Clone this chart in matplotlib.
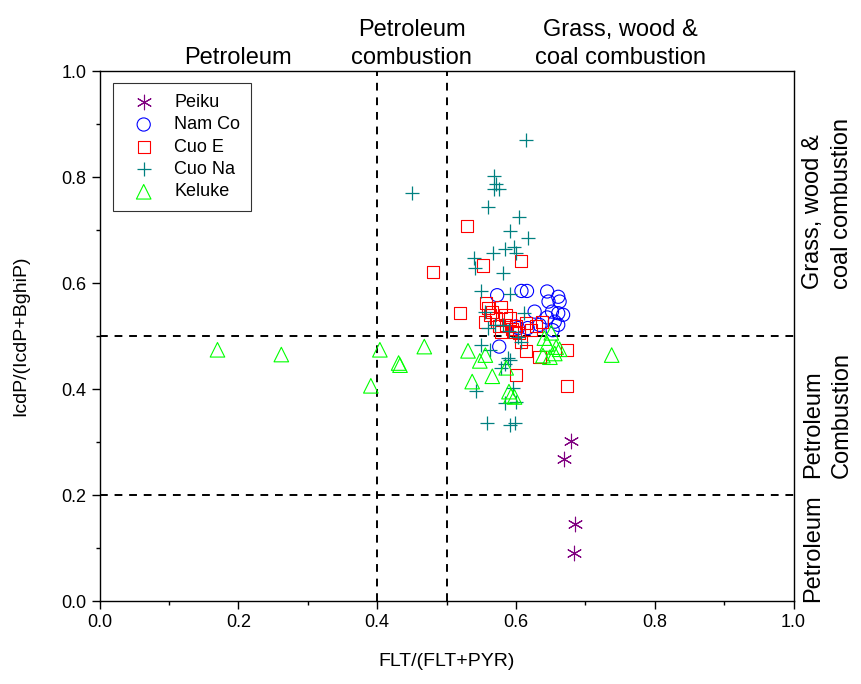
import matplotlib
matplotlib.use("Agg")
import matplotlib.pyplot as plt

plt.rcParams['font.family'] = ['Liberation Sans', 'DejaVu Sans']

# FLT/(FLT+PYR) and IcdP/(IcdP+BghiP) ratios
peiku_x = [0.680, 0.670, 0.685, 0.683]
peiku_y = [0.302, 0.268, 0.145, 0.091]

namco_x = [0.573, 0.608, 0.616, 0.645, 0.647, 0.661, 0.663, 0.627, 0.652, 0.661,
           0.668, 0.656, 0.661, 0.653, 0.600, 0.576, 0.634, 0.617, 0.603, 0.645]
namco_y = [0.577, 0.585, 0.585, 0.584, 0.565, 0.574, 0.565, 0.546, 0.546, 0.543,
           0.540, 0.527, 0.521, 0.511, 0.518, 0.480, 0.521, 0.515, 0.515, 0.535]

cuoe_x = [0.529, 0.552, 0.607, 0.519, 0.480, 0.557, 0.555, 0.579, 0.562, 0.572,
          0.591, 0.586, 0.600, 0.615, 0.637, 0.622, 0.576, 0.579, 0.598, 0.566,
          0.585, 0.629, 0.608, 0.615, 0.634, 0.673, 0.600, 0.673, 0.560, 0.594, 0.605]
cuoe_y = [0.708, 0.633, 0.641, 0.544, 0.620, 0.562, 0.527, 0.555, 0.540, 0.533,
          0.533, 0.521, 0.518, 0.524, 0.527, 0.511, 0.518, 0.508, 0.508, 0.545,
          0.540, 0.518, 0.488, 0.472, 0.460, 0.474, 0.426, 0.406, 0.552, 0.514, 0.505]

cuona_x = [0.450, 0.615, 0.569, 0.572, 0.576, 0.569, 0.560, 0.605, 0.591, 0.618,
           0.567, 0.585, 0.597, 0.600, 0.540, 0.541, 0.581, 0.549, 0.592, 0.555,
           0.612, 0.581, 0.560, 0.550, 0.562, 0.589, 0.592, 0.584, 0.579, 0.608,
           0.603, 0.542, 0.596, 0.584, 0.600, 0.559, 0.592, 0.598, 0.570, 0.590]
cuona_y = [0.770, 0.870, 0.802, 0.787, 0.777, 0.777, 0.743, 0.724, 0.699, 0.684,
           0.656, 0.664, 0.668, 0.656, 0.648, 0.628, 0.618, 0.585, 0.580, 0.546,
           0.544, 0.521, 0.515, 0.483, 0.474, 0.458, 0.455, 0.448, 0.439, 0.489,
           0.499, 0.397, 0.401, 0.373, 0.376, 0.335, 0.332, 0.336, 0.520, 0.510]

keluke_x = [0.170, 0.262, 0.391, 0.404, 0.431, 0.433, 0.468, 0.531, 0.548, 0.556,
            0.537, 0.566, 0.586, 0.593, 0.598, 0.590, 0.641, 0.651, 0.639, 0.649,
            0.656, 0.663, 0.658, 0.645, 0.738]
keluke_y = [0.474, 0.465, 0.406, 0.474, 0.449, 0.445, 0.480, 0.472, 0.453, 0.464,
            0.414, 0.424, 0.440, 0.387, 0.385, 0.395, 0.496, 0.506, 0.463, 0.460,
            0.467, 0.475, 0.479, 0.485, 0.464]

fig = plt.figure(figsize=(8.61, 6.84), dpi=100)
ax = fig.add_axes([99.5 / 861, 1 - 601 / 684, 694 / 861, 530 / 684])

ax.scatter(peiku_x, peiku_y, marker=(6, 2, 0), s=110, color='#800080', linewidths=0.8, label='Peiku', zorder=3)
ax.scatter(namco_x, namco_y, marker='o', s=90, facecolors='none', edgecolors='#0000FF', linewidths=0.8, label='Nam Co', zorder=3)
ax.scatter(cuoe_x, cuoe_y, marker='s', s=75, facecolors='none', edgecolors='#FF0000', linewidths=0.8, label='Cuo E', zorder=3)
ax.scatter(cuona_x, cuona_y, marker='+', s=90, color='#008080', linewidths=0.9, label='Cuo Na', zorder=3)
ax.scatter(keluke_x, keluke_y, marker='^', s=110, facecolors='none', edgecolors='#00FF00', linewidths=0.8, label='Keluke', zorder=3)

for xv in [0.4, 0.5]:
    ax.axvline(xv, color='black', linestyle=(0, (4, 3.5)), linewidth=1.4, zorder=2)
for yv in [0.5, 0.2]:
    ax.axhline(yv, color='black', linestyle=(0, (4, 3.5)), linewidth=1.4, zorder=2)

ax.set_xlim(0, 1)
ax.set_ylim(0, 1)
ax.set_xticks([0.0, 0.2, 0.4, 0.6, 0.8, 1.0])
ax.set_yticks([0.0, 0.2, 0.4, 0.6, 0.8, 1.0])
ax.set_xticks([0.1, 0.3, 0.5, 0.7, 0.9], minor=True)
ax.set_yticks([0.1, 0.3, 0.5, 0.7, 0.9], minor=True)
ax.tick_params(which='major', direction='out', length=6, width=1, labelsize=13)
ax.tick_params(which='minor', direction='out', length=3, width=1)
for sp in ax.spines.values():
    sp.set_linewidth(1.0)

ax.set_xlabel('FLT/(FLT+PYR)', fontsize=14, labelpad=16)
ax.set_ylabel('IcdP/(IcdP+BghiP)', fontsize=14, labelpad=23)

# region labels on top
ax.text(0.2, 1.003, 'Petroleum', fontsize=17, ha='center', va='bottom', transform=ax.transAxes)
ax.text(0.45, 1.003, 'Petroleum\ncombustion', fontsize=17, ha='center', va='bottom',
        linespacing=1.4, transform=ax.transAxes)
ax.text(0.75, 1.003, 'Grass, wood &\ncoal combustion', fontsize=17, ha='center', va='bottom',
        linespacing=1.4, transform=ax.transAxes)

# region labels on the right
ax.text(1.012, 0.75, 'Grass, wood &\ncoal combustion', fontsize=17, ha='left', va='center',
        rotation=90, linespacing=1.4, transform=ax.transAxes)
ax.text(1.012, 0.35, 'Petroleum\nCombustion', fontsize=17, ha='left', va='center',
        rotation=90, linespacing=1.4, transform=ax.transAxes)
ax.text(1.012, 0.10, 'Petroleum', fontsize=17, ha='left', va='center',
        rotation=90, transform=ax.transAxes)

leg = ax.legend(loc='upper left', bbox_to_anchor=((113 - 99.5) / 694, 1 - (83 - 71) / 530),
                borderaxespad=0, fontsize=13, frameon=True, fancybox=False,
                handletextpad=0.6, labelspacing=0.3, borderpad=0.6, handlelength=2.2)
leg.get_frame().set_edgecolor('black')
leg.get_frame().set_linewidth(0.8)

fig.savefig('out.png', dpi=100)
